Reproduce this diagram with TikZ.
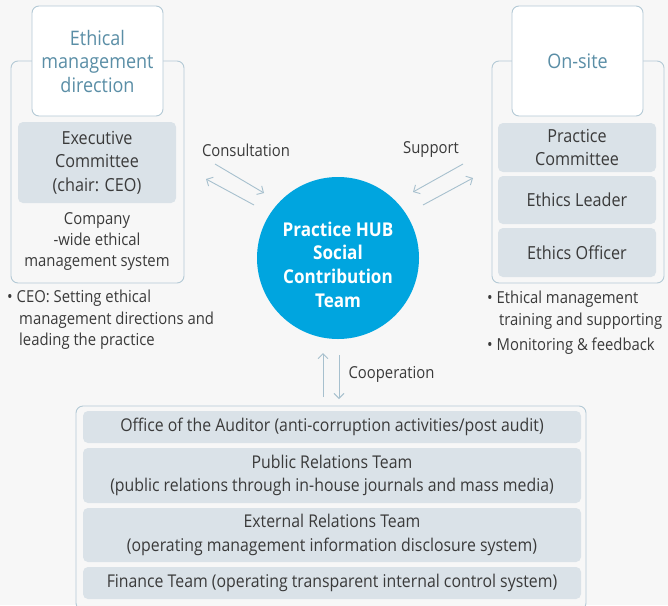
\documentclass[tikz,border=0pt]{standalone}
\usepackage{fontspec}
\setmainfont[FakeStretch=0.9]{Open Sans}
\usetikzlibrary{arrows.meta}
\definecolor{bg}{HTML}{F7F7F7}
\definecolor{frame}{HTML}{B3C9D5}
\definecolor{cellfill}{HTML}{DAE2E8}
\definecolor{titleblue}{HTML}{5A8EA6}
\definecolor{txt}{HTML}{3A3A3A}
\definecolor{hub}{HTML}{00A5DF}
\definecolor{arr}{HTML}{A7C0CE}
\tikzset{
  outerbox/.style={draw=frame, line width=0.9pt, rounded corners=7pt, fill=bg},
  titlebox/.style={draw=frame, line width=0.9pt, rounded corners=7pt, fill=white, text=titleblue, font=\fontsize{20}{23.5}\selectfont, align=center},
  cell/.style={fill=cellfill, rounded corners=5pt, text=txt, font=\fontsize{18}{23.5}\selectfont, align=center},
  widecell/.style={cell, font=\fontsize{17.6}{23.5}\selectfont},
  plain/.style={text=txt, font=\fontsize{16.5}{21}\selectfont, align=center},
  note/.style={text=txt, font=\fontsize{16.5}{21.5}\selectfont, align=left, anchor=north west, inner sep=0pt},
  flow/.style={draw=arr, line width=0.9pt, -{Straight Barb[length=5pt,width=10pt]}},
}
\begin{document}
\begin{tikzpicture}[x=1pt,y=-1pt]
\useasboundingbox[fill=bg] (0,0) rectangle (668,605);
% left group
\node[outerbox, minimum width=173pt, minimum height=222pt] (lout) at (97.5,172) {};
\node[titlebox, minimum width=131pt, minimum height=110pt] (ltitle) at (97.5,61) {Ethical\\management\\direction};
\node[cell, minimum width=158pt, minimum height=81pt] (exec) at (97,162.5) {Executive\\Committee\\(chair: CEO)};
\node[plain] (company) at (97,242) {Company\\-wide ethical\\management system};
\node[note] (lnote) at (7,290) {\textbullet\ CEO: Setting ethical\\\hspace*{12pt}management directions and\\\hspace*{12pt}leading the practice};
% right group
\node[outerbox, minimum width=172pt, minimum height=222pt] (rout) at (578,172) {};
\node[titlebox, minimum width=131pt, minimum height=110pt] (rtitle) at (577.5,61) {On-site};
\node[cell, minimum width=158pt, minimum height=49pt] (pc) at (577,147.5) {Practice\\Committee};
\node[cell, minimum width=158pt, minimum height=48pt] (el) at (577,200) {Ethics Leader};
\node[cell, minimum width=158pt, minimum height=49pt] (eo) at (577,252.5) {Ethics Officer};
\node[note] (rnote1) at (487,291) {\textbullet\ Ethical management\\\hspace*{12pt}training and supporting};
\node[note] (rnote2) at (487,338) {\textbullet\ Monitoring \& feedback};
% hub
\node[circle, fill=hub, minimum size=162pt, inner sep=0pt] (hub) at (338,258) {};
\node[text=white, font=\fontsize{19}{23.7}\selectfont\bfseries, align=center] (hubtxt) at (338,264.5) {Practice HUB\\Social\\Contribution\\Team};
% consultation arrows
\coordinate (c1s) at (215,164); \coordinate (c1e) at (264,193);
\coordinate (c2s) at (254,205); \coordinate (c2e) at (206,179);
\draw[flow] (c1s) -- (c1e);
\draw[flow] (c2s) -- (c2e);
\node[plain] (consult) at (246,150) {Consultation};
% support arrows
\coordinate (s1s) at (463,164); \coordinate (s1e) at (413,192);
\coordinate (s2s) at (423,205); \coordinate (s2e) at (473,178);
\draw[flow] (s1s) -- (s1e);
\draw[flow] (s2s) -- (s2e);
\node[plain] (support) at (431,150) {Support};
% cooperation
\coordinate (u1s) at (323,397); \coordinate (u1e) at (323,353);
\coordinate (d1s) at (339,355); \coordinate (d1e) at (339,399);
\draw[flow] (u1s) -- (u1e);
\draw[flow] (d1s) -- (d1e);
\node[plain, anchor=west] (coop) at (345,374) {Cooperation};
% bottom group
\node[outerbox, minimum width=510pt, minimum height=204pt] (bout) at (331,508) {};
\node[widecell, minimum width=498pt, minimum height=32pt] (b1) at (332,427) {Office of the Auditor (anti-corruption activities/post audit)};
\node[widecell, minimum width=498pt, minimum height=55pt] (b2) at (332,475.5) {Public Relations Team\\(public relations through in-house journals and mass media)};
\node[widecell, minimum width=498pt, minimum height=54pt] (b3) at (332,535) {External Relations Team\\(operating management information disclosure system)};
\node[widecell, minimum width=498pt, minimum height=32pt] (b4) at (332,583) {Finance Team (operating transparent internal control system)};
\end{tikzpicture}
\end{document}
